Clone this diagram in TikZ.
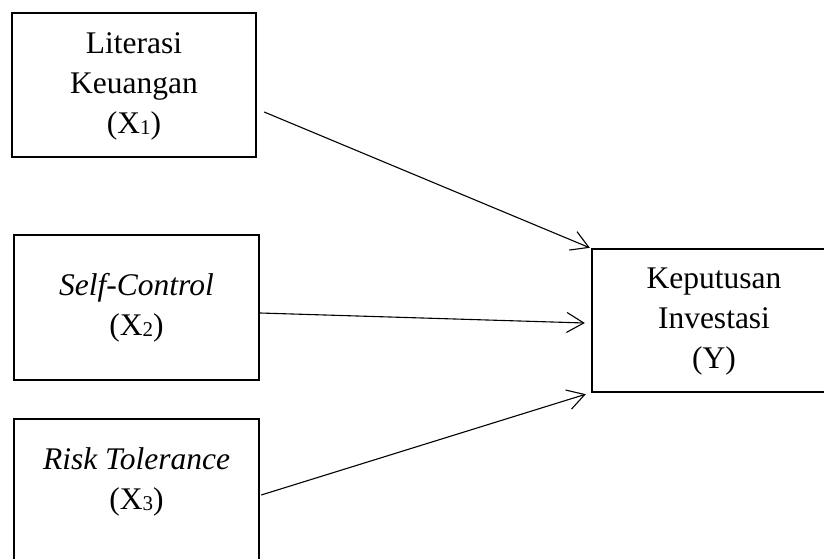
\documentclass[tikz,border=0pt]{standalone}
\usepackage{fontspec}
\setmainfont{Liberation Serif}
\usetikzlibrary{arrows.meta}
\newcommand\subx[1]{\raisebox{-1pt}{\fontsize{21}{21}\selectfont #1}}
\begin{document}
\begin{tikzpicture}[x=1pt,y=-1pt,
  varbox/.style={draw=black, line width=2.4pt, rectangle, inner sep=0pt,
    font=\fontsize{31.5}{40}\selectfont},
  arr/.style={line width=1.1pt, -{Straight Barb[length=17pt,width=20pt,line width=1.1pt]}}]
\useasboundingbox[fill=white] (0,0) rectangle (824,558);
\node[varbox, minimum width=244pt, minimum height=144pt] (x1) at (134,85)
  {\begin{tabular}{@{}c@{}}Literasi\\Keuangan\\(X\subx{1})\end{tabular}};
\node[varbox, minimum width=245pt, minimum height=145pt] (x2) at (136.5,307.5)
  {\begin{tabular}{@{}c@{}}\textit{Self-Control}\\(X\subx{2})\end{tabular}};
\node[varbox, minimum width=245pt, minimum height=143pt] (x3) at (136.5,490.5)
  {\begin{tabular}{@{}c@{}}\textit{Risk Tolerance}\\(X\subx{3})\\[18pt]\end{tabular}};
\node[varbox, minimum width=244pt, minimum height=143pt] (ky) at (714,320.5)
  {\begin{tabular}{@{}c@{}}Keputusan\\Investasi\\(Y)\end{tabular}};
\draw[arr] ([shift={(7,27)}]x1.east) -- ([shift={(-1,0)}]ky.north west);
\draw[arr] ([shift={(0,5.5)}]x2.east) -- ([shift={(-6,2.5)}]ky.west);
\draw[arr] ([shift={(1,4.5)}]x3.east) -- ([shift={(-5,1)}]ky.south west);
\end{tikzpicture}
\end{document}
